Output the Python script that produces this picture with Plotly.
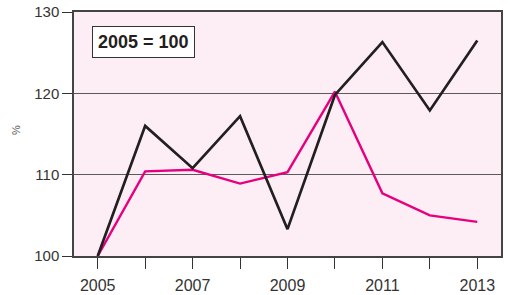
import plotly.graph_objects as go

years = [2005, 2006, 2007, 2008, 2009, 2010, 2011, 2012, 2013]
black_series = [100.0, 116.0, 110.8, 117.2, 103.3, 119.8, 126.3, 117.9, 126.5]
pink_series = [100.0, 110.4, 110.6, 108.9, 110.3, 120.2, 107.7, 105.0, 104.2]
x_tick_labels = ["2005", "", "2007", "", "2009", "", "2011", "", "2013"]
y_ticks = [100, 110, 120, 130]

fig = go.Figure()
fig.add_trace(go.Scatter(x=years, y=pink_series, mode="lines",
                         line=dict(color="#e6007e", width=2.4), hoverinfo="skip"))
fig.add_trace(go.Scatter(x=years, y=black_series, mode="lines",
                         line=dict(color="#231f20", width=2.7), hoverinfo="skip"))

fig.update_layout(
    width=510, height=295,
    margin=dict(l=74, r=9, t=12, b=39),
    paper_bgcolor="white",
    plot_bgcolor="#fdeef5",
    showlegend=False,
    font=dict(family="Liberation Sans, Arial, sans-serif", color="#333333", size=15),
    xaxis=dict(range=[2004.5, 2013.5], tickvals=years, ticktext=x_tick_labels,
               ticks="outside", ticklen=11, tickcolor="#333333", tickwidth=1,
               showgrid=False, zeroline=False, showline=True, linecolor="#444444",
               linewidth=1.5, mirror=True, fixedrange=True, automargin=False,
               ticklabeloverflow="allow", ticklabelstandoff=3,
               tickfont=dict(size=16, color="#333333")),
    yaxis=dict(range=[100, 130], tickvals=y_ticks,
               ticks="outside", ticklen=10, tickcolor="#333333", tickwidth=1,
               showgrid=True, gridcolor="#5a5a5a", gridwidth=1,
               zeroline=False, showline=True, linecolor="#444444",
               linewidth=1.5, mirror=True, fixedrange=True, automargin=False,
               ticklabeloverflow="allow",
               tickfont=dict(size=15, color="#333333")),
)

fig.add_annotation(xref="paper", yref="paper", x=-0.134, y=0.515,
                   xanchor="center", yanchor="middle", textangle=-90,
                   text="%", showarrow=False,
                   font=dict(size=11, color="#555555"))

fig.add_annotation(xref="paper", yref="paper", x=0.042, y=0.877,
                   xanchor="left", yanchor="middle",
                   text="<b>2005 = 100</b>", showarrow=False,
                   font=dict(size=18, color="#231f20"),
                   bgcolor="white", bordercolor="#333333", borderwidth=1,
                   borderpad=5)

# remove the page's default 8px body margin so the figure fills the window
fig.write_html("out.html", config={"displayModeBar": False},
               post_script="document.body.style.margin='0';")
